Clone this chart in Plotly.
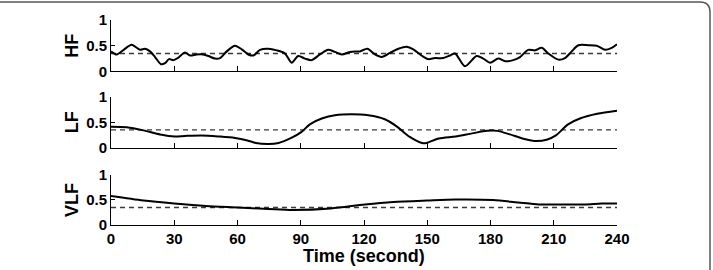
import plotly.graph_objects as go

# ---- data ----
hf_t = [0, 2.7, 6, 9.8, 13.8, 16.1, 18.5, 20.9, 23.7, 25.6, 27.5, 29.6, 31.6, 35.1, 37.5, 40.6, 43.8,
        46.2, 49.3, 51.7, 54.9, 58.8, 62, 65.1, 67.5, 70.7, 74.6, 78.6, 82.5, 85.7, 88.8, 92, 95.2,
        99.1, 103, 106.2, 109.4, 113.4, 115.7, 118, 121.6, 125.2, 128.4, 132.3, 136.3, 140.2, 143.4,
        147.3, 150.5, 153.7, 157.6, 160.8, 163.2, 167.9, 173.4, 176.6, 179.8, 183.7, 186.9, 190.8,
        194, 197.9, 201.1, 204.3, 207.4, 212.2, 215.3, 218.5, 221.7, 226.4, 230.4, 234.4, 237.5, 240]
hf_v = [0.39, 0.33, 0.42, 0.52, 0.42, 0.44, 0.39, 0.28, 0.14, 0.16, 0.24, 0.22, 0.26, 0.37, 0.31, 0.33,
        0.33, 0.30, 0.25, 0.26, 0.39, 0.50, 0.43, 0.33, 0.31, 0.42, 0.44, 0.41, 0.35, 0.17, 0.30, 0.25,
        0.22, 0.33, 0.42, 0.38, 0.33, 0.38, 0.39, 0.39, 0.44, 0.33, 0.28, 0.36, 0.44, 0.48, 0.43, 0.31,
        0.24, 0.26, 0.26, 0.31, 0.35, 0.10, 0.30, 0.25, 0.17, 0.25, 0.20, 0.22, 0.28, 0.42, 0.41, 0.46,
        0.35, 0.23, 0.26, 0.39, 0.51, 0.51, 0.50, 0.42, 0.46, 0.53]

lf_t = [0, 7.5, 15.4, 23.3, 30.2, 35.1, 43, 50.9, 58.8, 64.7, 68.7, 74.6, 79.5, 85.5, 90.4, 94.3,
        100.3, 106.2, 114.1, 122, 129.9, 135.8, 141.7, 147.6, 149.6, 155.5, 163.4, 171.3, 178.3,
        183.2, 189.2, 195.1, 201, 207, 211, 216.8, 222.7, 230.6, 240]
lf_v = [0.41, 0.40, 0.34, 0.26, 0.22, 0.23, 0.24, 0.22, 0.19, 0.14, 0.09, 0.07, 0.09, 0.19, 0.31, 0.46,
        0.58, 0.64, 0.66, 0.64, 0.56, 0.41, 0.21, 0.09, 0.09, 0.18, 0.22, 0.28, 0.33, 0.33, 0.26, 0.18,
        0.13, 0.16, 0.24, 0.46, 0.58, 0.67, 0.73]

vlf_t = [0, 15.4, 30, 45, 60, 74.6, 86.4, 104.2, 120.4, 133.8, 150, 163.4, 181.2, 193.1, 203, 210,
         224.7, 232.6, 240]
vlf_v = [0.58, 0.49, 0.43, 0.38, 0.35, 0.32, 0.30, 0.33, 0.41, 0.46, 0.49, 0.51, 0.50, 0.45, 0.41,
         0.41, 0.41, 0.43, 0.43]

thresh_t = [0, 240]
thresh_v = [0.35, 0.35]

panel_names = ["HF", "LF", "VLF"]
x_ticks = [0, 30, 60, 90, 120, 150, 180, 210, 240]
y_ticks = [0, 0.5, 1]
y_ticklabels = ["0", "0.5", "1"]
x_title = "Time (second)"

# ---- layout geometry ----
W, H = 713, 270
L, R, T, B = 111, 96, 20, 45
PW, PH = W - L - R, H - T - B
domains = [[0.749, 1.0], [0.378, 0.624], [0.0, 0.244]]
series = [(hf_t, hf_v), (lf_t, lf_v), (vlf_t, vlf_v)]

FONT = "Liberation Sans, Arial, sans-serif"
fig = go.Figure()
for i, ((tt, vv), name) in enumerate(zip(series, panel_names)):
    sfx = "" if i == 0 else str(i + 1)
    fig.add_trace(go.Scatter(x=thresh_t, y=thresh_v, mode="lines",
                             line=dict(color="#3a3a3a", width=1.4, dash="5px,4px"),
                             xaxis="x" + sfx, yaxis="y" + sfx, showlegend=False))
    fig.add_trace(go.Scatter(x=tt, y=vv, mode="lines",
                             line=dict(color="black", width=2, shape="spline", smoothing=0.8),
                             xaxis="x" + sfx, yaxis="y" + sfx, showlegend=False))
    xa = dict(domain=[0, 1], range=[0, 240], anchor="y" + sfx, tickvals=x_ticks,
              ticks="inside", ticklen=5, tickcolor="black", showline=True, linecolor="black",
              linewidth=1, showgrid=False, zeroline=False,
              showticklabels=(i == 2),
              tickfont=dict(family=FONT, size=15, color="black", weight="bold"))
    ya = dict(domain=domains[i], range=[0, 1], anchor="x" + sfx, tickvals=y_ticks,
              ticktext=y_ticklabels, ticks="inside", ticklen=4, tickcolor="black",
              showline=True, linecolor="black", linewidth=1, showgrid=False, zeroline=False,
              tickfont=dict(family=FONT, size=15, color="black", weight="bold"))
    fig.layout["xaxis" + sfx] = xa
    fig.layout["yaxis" + sfx] = ya
    fig.add_annotation(text=name, xref="paper", yref="paper",
                       x=(72 - L) / PW, y=(domains[i][0] + domains[i][1]) / 2,
                       xanchor="center", yanchor="middle", textangle=-90, showarrow=False,
                       font=dict(family=FONT, size=18, color="black", weight="bold"))

fig.add_annotation(text=x_title, xref="paper", yref="paper", x=0.5, y=(225 - 256) / PH,
                   xanchor="center", yanchor="middle", showarrow=False,
                   font=dict(family=FONT, size=18, color="black", weight="bold"))

# frame with rounded top-right corner
x0 = (-5 - L) / PW
x1 = (710 - L) / PW
yt = (H - B - 2) / PH
yb = (H - B - 280) / PH
rx, ry = 10 / PW, 10 / PH
fig.add_shape(type="path", xref="paper", yref="paper",
              path=f"M {x0},{yt} L {x1 - rx},{yt} Q {x1},{yt} {x1},{yt - ry} L {x1},{yb}",
              line=dict(color="#555555", width=1.5))

fig.update_layout(width=W, height=H, margin=dict(l=L, r=R, t=T, b=B),
                  paper_bgcolor="white", plot_bgcolor="white")
fig.write_html("out.html")
